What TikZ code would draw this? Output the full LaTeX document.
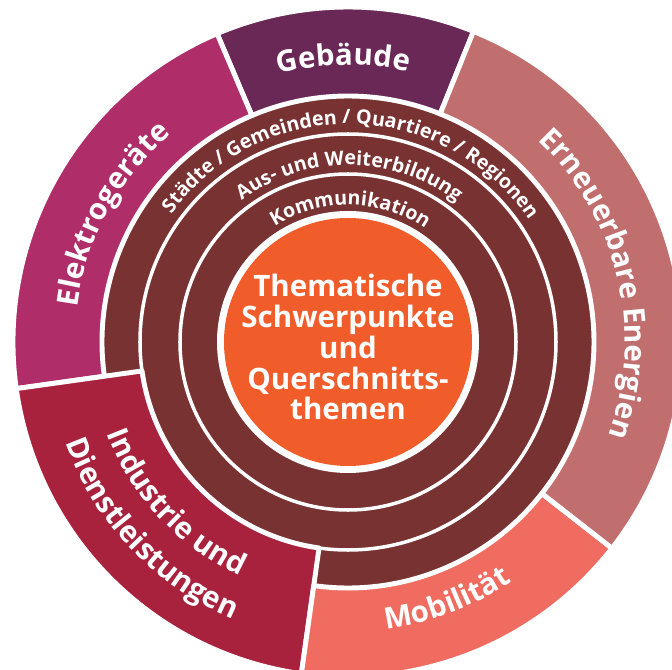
\documentclass[tikz,border=0pt]{standalone}
\usepackage{fontspec}
\setmainfont{Open Sans}
\usetikzlibrary{decorations.text}

\definecolor{gebaeude}{HTML}{692855}
\definecolor{elektro}{HTML}{AF2D69}
\definecolor{industrie}{HTML}{A8223E}
\definecolor{mobil}{HTML}{F06C60}
\definecolor{erneuerbar}{HTML}{C06E6E}
\definecolor{querbraun}{HTML}{783232}
\definecolor{kernorange}{HTML}{F05C2A}

\newcommand{\ringfont}{\bfseries\fontsize{14}{14}\selectfont}
\newcommand{\feldfont}{\bfseries\fontsize{21}{21}\selectfont}

\tikzset{
  segment/.style={draw=white, line width=3.5pt, line join=round},
  ringtext/.style={decorate, decoration={text along path, text align=center,
      text color=white, text={|\ringfont|#1}}},
  feldtext/.style={decorate, decoration={text along path, text align=center,
      text color=white, text={|\feldfont|#1}}},
}

\begin{document}
\begin{tikzpicture}[x=0.025cm, y=0.025cm]
  \useasboundingbox (-348,-328) rectangle (324,342);
  \clip (-348,-328) rectangle (324,342);
  % rings of cross-cutting themes
  \fill[querbraun] (0,0) circle[radius=246];
  \draw[white, line width=2.5pt] (0,0) circle[radius=208] (0,0) circle[radius=168];
  \fill[white] (0,0) circle[radius=131];
  \fill[kernorange] (0,0) circle[radius=124];
  % outer fields
  \filldraw[fill=gebaeude, segment] (68:246) arc[start angle=68, end angle=113, radius=246]
    -- (113:335) arc[start angle=113, end angle=68, radius=335] -- cycle;
  \filldraw[fill=elektro, segment] (113:246) arc[start angle=113, end angle=188, radius=246]
    -- (188:335) arc[start angle=188, end angle=113, radius=335] -- cycle;
  \filldraw[fill=industrie, segment] (188:208) arc[start angle=188, end angle=262, radius=208]
    -- (262:335) arc[start angle=262, end angle=188, radius=335] -- cycle;
  \filldraw[fill=mobil, segment] (262:246) arc[start angle=262, end angle=322, radius=246]
    -- (322:335) arc[start angle=322, end angle=262, radius=335] -- cycle;
  \filldraw[fill=erneuerbar, segment] (-38:246) arc[start angle=-38, end angle=68, radius=246]
    -- (68:335) arc[start angle=68, end angle=-38, radius=335] -- cycle;
  % ring labels
  \path[ringtext={Städte / Gemeinden / Quartiere / Regionen}] (170:218) arc[start angle=170, end angle=8, radius=218];
  \path[ringtext={Aus- und Weiterbildung}] (160:177) arc[start angle=160, end angle=19, radius=177];
  \path[ringtext={Kommunikation}] (150:137) arc[start angle=150, end angle=28, radius=137];
  % field labels
  \path[feldtext={Gebäude}] (112:277) arc[start angle=112, end angle=70, radius=277];
  \path[feldtext={Elektrogeräte}] (185:273) arc[start angle=185, end angle=118, radius=273];
  \path[feldtext={Erneuerbare Energien}] (62:277) arc[start angle=62, end angle=-35, radius=277];
  \path[feldtext={Mobilität}] (-95:290) arc[start angle=-95, end angle=-43, radius=290];
  \path[feldtext={Industrie und}] (190:258) arc[start angle=190, end angle=256, radius=258];
  \path[feldtext={Dienstleistungen}] (190:300) arc[start angle=190, end angle=257, radius=300];
  % core
  \node[align=center, text=white, font=\bfseries\fontsize{21}{22}\selectfont] (kern) at (0,-5)
    {Thematische\\Schwerpunkte\\und\\Querschnitts-\\themen};
\end{tikzpicture}
\end{document}
